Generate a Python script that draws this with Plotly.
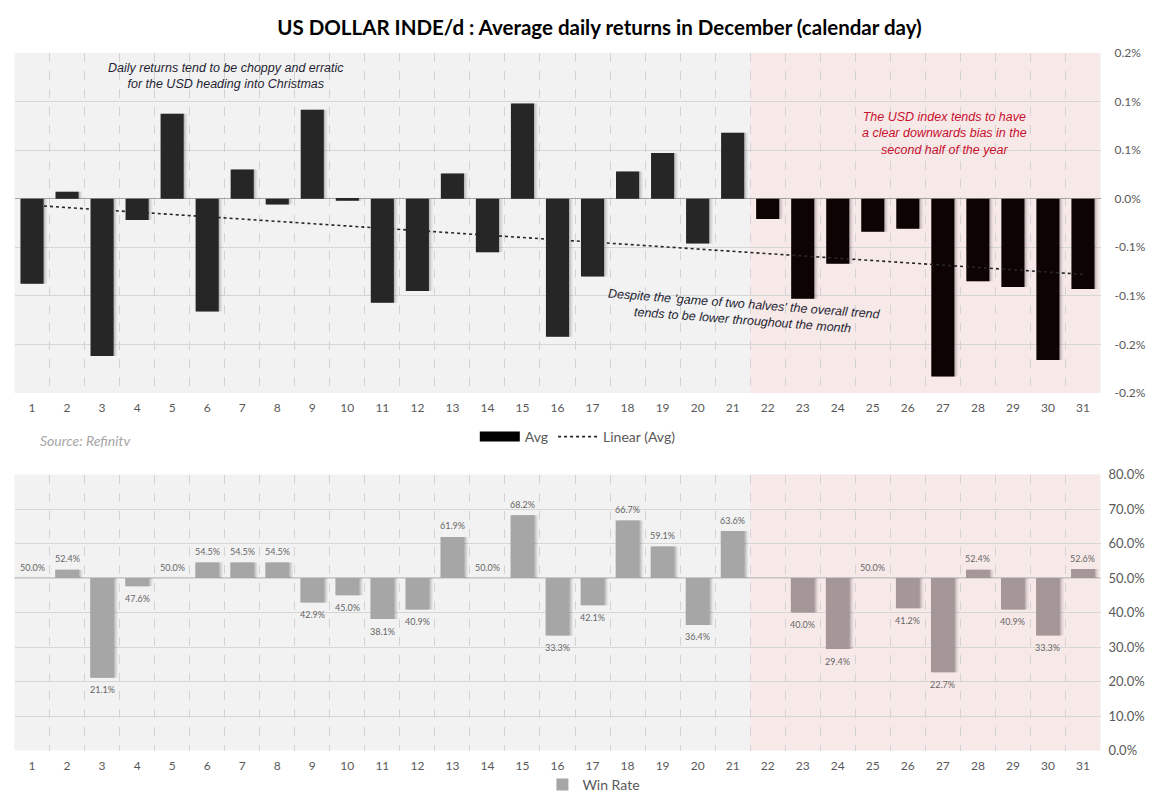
import numpy as np
import plotly.graph_objects as go

# ---------------- data ----------------
DAYS = list(range(1, 32))
AVG_RETURN = [-0.0875, 0.0072, -0.162, -0.022, 0.0875, -0.116, 0.030, -0.006, 0.0916, -0.002,
              -0.107, -0.095, 0.026, -0.055, 0.098, -0.142, -0.080, 0.028, 0.047, -0.046,
              0.068, -0.021, -0.103, -0.067, -0.034, -0.031, -0.183, -0.085, -0.091, -0.166,
              -0.093]
WIN_RATE = [50.0, 52.4, 21.1, 47.6, 50.0, 54.5, 54.5, 54.5, 42.9, 45.0,
            38.1, 40.9, 61.9, 50.0, 68.2, 33.3, 42.1, 66.7, 59.1, 36.4,
            63.6, None, 40.0, 29.4, 50.0, 41.2, 22.7, 52.4, 40.9, 33.3,
            52.6]
WIN_BASE = 50.0
SPLIT_DAY = 21  # last day of the "first half"
TOP_TICK_VALS = [-0.20, -0.15, -0.10, -0.05, 0.0, 0.05, 0.10, 0.15]
TOP_TICK_TEXT = ["-0.2%", "-0.2%", "-0.1%", "-0.1%", "0.0%", "0.1%", "0.1%", "0.2%"]
BOT_TICK_VALS = [0, 10, 20, 30, 40, 50, 60, 70, 80]
BOT_TICK_TEXT = ["0.0%", "10.0%", "20.0%", "30.0%", "40.0%", "50.0%", "60.0%", "70.0%", "80.0%"]

# ---------------- styling ----------------
W, H = 1151, 808
GREY_BG = "#f2f2f2"
PINK_BG = "#f8e9e9"
TICK_COL = "#595959"
FONT = "Lato"
TOP_W = 0.66
BOT_W = 0.68

top_colors = ["#262626" if d <= SPLIT_DAY else "#0e0303" for d in DAYS]
bot_colors = ["#a6a6a6" if d <= SPLIT_DAY else "#a59797" for d in DAYS]

# trend line from least squares fit of the avg data
coef = np.polyfit(DAYS, AVG_RETURN, 1)
trend = list(np.polyval(coef, DAYS))

def px_x(p):
    return p / W

def px_y(p):
    return 1 - p / H

xdom = [px_x(14.5), px_x(1100.5)]
top_dom = [px_y(393), px_y(53)]
bot_dom = [px_y(750.5), px_y(474.5)]

fig = go.Figure()

win_delta = [None if v is None else v - WIN_BASE for v in WIN_RATE]

# soft drop shadows (drawn first, slightly offset to the right)
for shift, alpha in ((0.11, 0.05), (0.07, 0.08), (0.035, 0.10)):
    fig.add_trace(go.Bar(x=DAYS, y=AVG_RETURN, width=TOP_W, offset=-TOP_W / 2 + shift,
                         marker=dict(color=f"rgba(0,0,0,{alpha})", line=dict(width=0)),
                         showlegend=False, hoverinfo="skip", xaxis="x", yaxis="y"))
    fig.add_trace(go.Bar(x=DAYS, y=win_delta, base=WIN_BASE, width=BOT_W,
                         offset=-BOT_W / 2 + shift,
                         marker=dict(color=f"rgba(0,0,0,{alpha})", line=dict(width=0)),
                         showlegend=False, hoverinfo="skip", xaxis="x2", yaxis="y2"))

fig.add_trace(go.Bar(x=DAYS, y=AVG_RETURN, marker=dict(color=top_colors, line=dict(width=0)),
                     width=TOP_W, name="Avg", xaxis="x", yaxis="y", showlegend=False,
                     hovertemplate="%{x}: %{y:.3f}%<extra></extra>"))
# legend key for "Avg" (wide black rectangle as in the source chart)
fig.add_trace(go.Scatter(x=[None], y=[None], mode="lines", name="Avg",
                         line=dict(color="#000000", width=10), xaxis="x", yaxis="y",
                         legend="legend"))
fig.add_trace(go.Scatter(x=DAYS, y=trend, mode="lines", name="Linear (Avg)",
                         line=dict(color="#262626", width=1.6, dash="dot"),
                         xaxis="x", yaxis="y", legend="legend"))

fig.add_trace(go.Bar(x=DAYS, y=win_delta, base=WIN_BASE, width=BOT_W,
                     marker=dict(color=bot_colors, line=dict(width=0)),
                     name="Win Rate", xaxis="x2", yaxis="y2", legend="legend2"))

# data labels
for d, v in zip(DAYS, WIN_RATE):
    if v is None:
        continue
    fig.add_annotation(x=d, y=v, xref="x2", yref="y2", text=f"{v:.1f}%", showarrow=False,
                       yshift=11 if v >= WIN_BASE else -12, xanchor="center", yanchor="middle",
                       font=dict(family=FONT, size=9, color="#666666"))

axis_x_common = dict(
    domain=xdom, range=[0.5, 31.5], tickmode="array", tickvals=DAYS,
    ticktext=[str(d) for d in DAYS], showgrid=False, zeroline=False, showline=False,
    ticks="", ticklabelstandoff=6, automargin=False,
    tickfont=dict(family=FONT, size=12, color=TICK_COL),
    minor=dict(tick0=0.5, dtick=1, showgrid=True, gridcolor="#d3d3d3", griddash="dash",
               gridwidth=1, ticks=""),
    fixedrange=True,
)

fig.update_layout(
    width=W, height=H,
    margin=dict(l=0, r=0, t=0, b=0, autoexpand=False),
    paper_bgcolor="white",
    plot_bgcolor=GREY_BG,
    barmode="overlay",
    font=dict(family=FONT, color=TICK_COL),
    xaxis=dict(axis_x_common, anchor="y"),
    xaxis2=dict(axis_x_common, anchor="y2"),
    yaxis=dict(domain=top_dom, range=[-0.2, 0.15], side="right", anchor="x",
               tickmode="array", tickvals=TOP_TICK_VALS, ticktext=TOP_TICK_TEXT,
               showgrid=True, gridcolor="#d6d6d6", gridwidth=1,
               zeroline=True, zerolinecolor="#a6a6a6", zerolinewidth=1,
               ticks="", ticklabelstandoff=13, automargin=False, fixedrange=True,
               tickfont=dict(family=FONT, size=12, color=TICK_COL)),
    yaxis2=dict(domain=bot_dom, range=[0, 80], side="right", anchor="x2",
                tickmode="array", tickvals=BOT_TICK_VALS, ticktext=BOT_TICK_TEXT,
                showgrid=True, gridcolor="#d6d6d6", gridwidth=1, zeroline=False,
                ticks="", ticklabelstandoff=7, automargin=False, fixedrange=True,
                tickfont=dict(family=FONT, size=13, color=TICK_COL)),
    legend=dict(orientation="h", x=0.502, y=px_y(437), xanchor="center", yanchor="middle",
                font=dict(family=FONT, size=14, color=TICK_COL), bgcolor="rgba(0,0,0,0)",
                itemwidth=40),
    legend2=dict(orientation="h", x=0.516, y=px_y(785), xanchor="center", yanchor="middle",
                 font=dict(family=FONT, size=14, color=TICK_COL), bgcolor="rgba(0,0,0,0)"),
    showlegend=True,
    title=dict(text="<b>US DOLLAR INDE/d : Average daily returns in December (calendar day)</b>",
               x=599.5 / W, xanchor="center", y=px_y(28), yanchor="middle",
               font=dict(family=FONT, size=20.5, color="#000000")),
)

# pink shading for the second half of the month (both panels)
for xr, yr in (("x", "y"), ("x2", "y2")):
    fig.add_shape(type="rect", xref=xr, yref=f"{yr} domain", x0=SPLIT_DAY + 0.5, x1=31.5,
                  y0=0, y1=1, fillcolor=PINK_BG, line=dict(width=0), layer="below")

# 50% axis crossing line on bottom panel
fig.add_shape(type="line", xref="x2 domain", yref="y2", x0=0, x1=1, y0=WIN_BASE, y1=WIN_BASE,
              line=dict(color="#a0a0a0", width=1), layer="below")

ANN_FONT = "Liberation Sans"
fig.add_annotation(text="Daily returns tend to be choppy and erratic<br>for the USD heading into Christmas",
                   xref="paper", yref="paper", x=px_x(226), y=px_y(76), showarrow=False,
                   xanchor="center", yanchor="middle", align="center",
                   font=dict(family=ANN_FONT, size=12.5, color="#1f1f33", style="italic"))
fig.add_annotation(text="The USD index tends to have<br>a clear downwards bias in the<br>second half of the year",
                   xref="paper", yref="paper", x=px_x(944), y=px_y(133), showarrow=False,
                   xanchor="center", yanchor="middle", align="center",
                   font=dict(family=ANN_FONT, size=12.5, color="#c8102e", style="italic"))
fig.add_annotation(text="Despite the 'game of two halves' the overall trend<br>tends to be lower throughout the month",
                   xref="paper", yref="paper", x=px_x(743), y=px_y(312), showarrow=False,
                   xanchor="center", yanchor="middle", align="center", textangle=4.4,
                   font=dict(family=ANN_FONT, size=12.5, color="#262633", style="italic"))
fig.add_annotation(text="<i>Source: Refinitv</i>", xref="paper", yref="paper",
                   x=px_x(38), y=px_y(440), showarrow=False, xanchor="left", yanchor="middle",
                   font=dict(family=FONT, size=14, color="#a6a6a6"))

fig.write_html("out.html", post_script="document.body.style.margin='0px';",
               config={"displayModeBar": False})
